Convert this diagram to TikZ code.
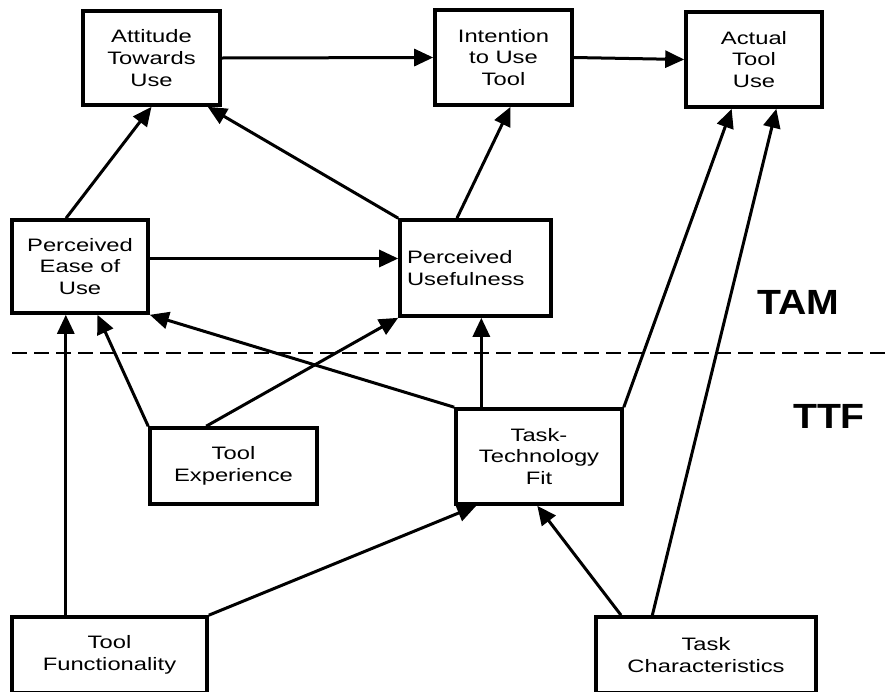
\documentclass[tikz,border=0pt]{standalone}
\usepackage{fontspec}
\setmainfont{Liberation Sans}
\newfontfamily\boxfont[FakeStretch=1.32]{Liberation Sans}
\newfontfamily\modelfont[FakeStretch=1.12]{Liberation Sans}
\usepackage{tikz}
\usetikzlibrary{positioning,arrows.meta,calc}
\tikzset{
  node-box/.style={draw=black,line width=3.6pt,rectangle,align=center,
    inner sep=4pt,font=\boxfont\fontsize{18}{21.7}\selectfont},
  % arrows between constructs: solid, filled triangle head
  arrow/.style={-{Triangle[length=19pt 0,width=17pt 0]},line width=3pt,draw=black},
  sep-line/.style={line width=2pt,dash pattern=on 15pt off 7pt},
  model-label/.style={font=\modelfont\bfseries\fontsize{35}{40}\selectfont},
}
\begin{document}
\begin{tikzpicture}[x=1pt,y=-1pt]
  \clip (0,0) rectangle (888,691);
  % TAM part
  \node[node-box,minimum width=137pt,minimum height=94pt] (att) at (151.5,58)
    {Attitude\\Towards\\Use};
  \node[node-box,minimum width=137pt,minimum height=95pt] (int) at (503.5,57.5)
    {Intention\\to Use\\Tool};
  \node[node-box,minimum width=136pt,minimum height=95pt] (act) at (754,59.5)
    {Actual\\Tool\\Use};
  \node[node-box,minimum width=136pt,minimum height=93pt] (peou) at (80,266.5)
    {Perceived\\Ease of\\Use};
  \node[node-box,minimum height=96pt,text width=137pt,inner sep=7pt,align=left]
    (pu) at (475.5,268) {Perceived\\Usefulness};
  % TTF part
  \node[node-box,minimum width=167pt,minimum height=76pt] (te) at (233.5,466)
    {Tool\\Experience};
  \node[node-box,minimum width=166pt,minimum height=95pt] (ttf) at (539,456.5)
    {Task-\\Technology\\Fit};
  \node[node-box,minimum width=195pt,minimum height=76pt] (tf) at (109.5,655)
    {Tool\\Functionality};
  \node[node-box,minimum width=220pt,minimum height=76pt] (tc) at (706,655)
    {Task\\Characteristics};

  \node[model-label] (tam) at (798,302) {TAM};
  \node[model-label] (ttflbl) at (829,416) {TTF};

  \coordinate (sepL) at (12,353);
  \coordinate (sepR) at (888,353);
  \draw[sep-line] (sepL) -- (sepR);

  % links
  \draw[arrow] (att.east) -- (int.west);
  \draw[arrow] (int.east) -- (act.west);
  \draw[arrow] ($(peou.north west)!0.4!(peou.north east)$) -- (att.south);
  \draw[arrow] (pu.north west) -- ($(att.south)!0.8!(att.south east)$);
  \draw[arrow] ($(pu.north west)!0.38!(pu.north east)$)
    -- ($(int.south)!0.1!(int.south east)$);
  \draw[arrow] ([yshift=8pt]peou.east) -- ([yshift=8pt]peou.east -| pu.west);
  \coordinate (ttfup) at ($(ttf.north west)!0.16!(ttf.north east)$);
  \draw[arrow] (ttfup) -- (ttfup |- pu.south);
  \draw[arrow] (ttf.north west) -- (peou.south east);
  \draw[arrow] (ttf.north east) -- ($(act.south west)!0.34!(act.south east)$);
  \draw[arrow] ($(tc.north west)!0.26!(tc.north east)$)
    -- ($(act.south west)!0.66!(act.south east)$);
  \draw[arrow] ($(tc.north west)!0.12!(tc.north east)$)
    -- ($(ttf.south west)!0.49!(ttf.south east)$);
  \draw[arrow] (te.north west) -- ($(peou.south west)!0.625!(peou.south east)$);
  \draw[arrow] ($(te.north west)!0.34!(te.north east)$) -- (pu.south west);
  \coordinate (tfup) at ($(tf.north west)!0.28!(tf.north east)$);
  \draw[arrow] (tfup) -- (tfup |- peou.south);
  \draw[arrow] (tf.north east) -- ($(ttf.south west)!0.13!(ttf.south east)$);
\end{tikzpicture}
\end{document}
